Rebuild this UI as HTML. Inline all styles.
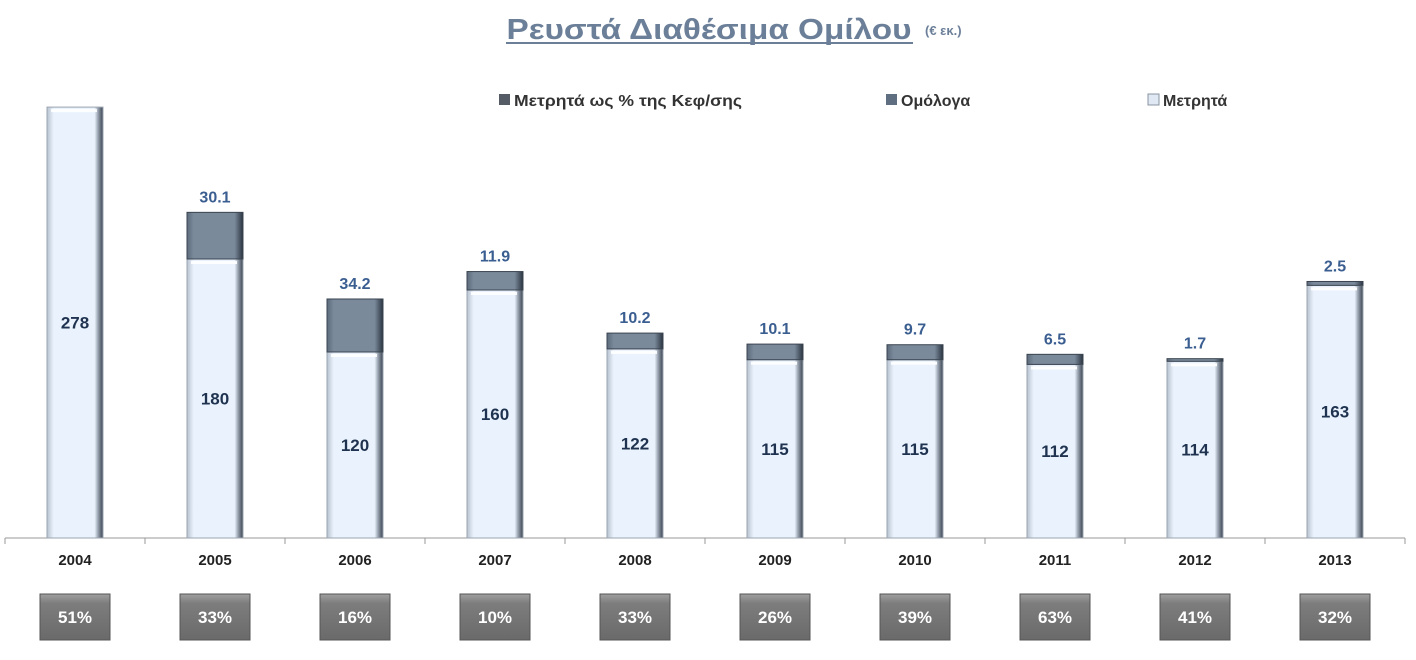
<!DOCTYPE html>
<html><head><meta charset="utf-8"><style>
body{margin:0;background:#fff;font-family:"Liberation Sans",sans-serif;}
svg text{font-family:"Liberation Sans",sans-serif;}
</style></head><body>
<svg width="1416" height="655" viewBox="0 0 1416 655">
<defs>
<linearGradient id="cash" x1="0" x2="1" y1="0" y2="0">
<stop offset="0" stop-color="#b8c2d0"/><stop offset="0.12" stop-color="#eaf3fd"/><stop offset="0.85" stop-color="#eaf3fd"/><stop offset="0.92" stop-color="#8e98a6"/><stop offset="1" stop-color="#3a4450"/></linearGradient>
<linearGradient id="bond" x1="0" x2="1" y1="0" y2="0">
<stop offset="0" stop-color="#5c6b7c"/><stop offset="0.12" stop-color="#7b8a9b"/><stop offset="0.85" stop-color="#7b8a9b"/><stop offset="1" stop-color="#2a3440"/></linearGradient>
<linearGradient id="pct" x1="0" x2="0" y1="0" y2="1">
<stop offset="0" stop-color="#a0a0a0"/><stop offset="0.2" stop-color="#7d7d7d"/><stop offset="1" stop-color="#6a6a6a"/></linearGradient>
</defs>
<text x="709" y="39" text-anchor="middle" font-size="29" font-weight="bold" fill="#6b7f99" textLength="405" lengthAdjust="spacingAndGlyphs">Ρευστά Διαθέσιμα Ομίλου</text>
<line x1="506" y1="43" x2="913" y2="43" stroke="#6b7f99" stroke-width="2"/>
<text x="925" y="35" font-size="13" font-weight="bold" fill="#6b7f99">(€ εκ.)</text>
<g>
<rect x="499" y="94" width="11" height="11" fill="#555c66"/>
<text x="514" y="106" font-size="16" font-weight="bold" fill="#333" textLength="228" lengthAdjust="spacingAndGlyphs">Μετρητά ως % της Κεφ/σης</text>
<rect x="886" y="94" width="11" height="11" fill="#5f6e80"/>
<text x="901" y="106" font-size="16" font-weight="bold" fill="#333">Ομόλογα</text>
<rect x="1148" y="94" width="11" height="11" fill="#dfe8f3" stroke="#8a94a0"/>
<text x="1163" y="106" font-size="16" font-weight="bold" fill="#333">Μετρητά</text>
</g>
<g id="plot"></g>
</svg>
<script>
const years=["2004","2005","2006","2007","2008","2009","2010","2011","2012","2013"];
const cash=[278,180,120,160,122,115,115,112,114,163];
const bonds=[0,30.1,34.2,11.9,10.2,10.1,9.7,6.5,1.7,2.5];
const pcts=["51%","33%","16%","10%","33%","26%","39%","63%","41%","32%"];
const X0=5,BAND=140,BASE=538,SCALE=1.55,BW=56;
const x=i=>X0+BAND*i+BAND/2;
const y=v=>BASE-v*SCALE;
const NS="http://www.w3.org/2000/svg";
const g=document.getElementById('plot');
function mk(t,a){const e=document.createElementNS(NS,t);for(const k in a)e.setAttribute(k,a[k]);g.appendChild(e);return e;}
const ax=mk('line',{x1:X0,y1:BASE,x2:X0+BAND*years.length,y2:BASE,stroke:'#999','stroke-width':1});


for(let i=0;i<=years.length;i++){const t=mk('line',{x1:X0+BAND*i,y1:BASE,x2:X0+BAND*i,y2:BASE+6,stroke:'#999'});

}
years.forEach((yr,i)=>{
const cx=x(i),l=cx-BW/2;
const ct=y(cash[i]);
const r=mk('rect',{x:l,y:ct,width:BW,height:BASE-ct,fill:'url(#cash)',stroke:'#9aa4b0','stroke-width':1});


mk('rect',{x:l+4,y:ct+2,width:BW-10,height:3,fill:'#fff',opacity:0.9});
const bt=y(cash[i]+bonds[i]);
if(bonds[i]>0){
const b=mk('rect',{x:l,y:bt,width:BW,height:ct-bt,fill:'url(#bond)',stroke:'#3a4450','stroke-width':1});


const bl=mk('text',{x:cx,y:bt-10,'text-anchor':'middle','font-size':16,'font-weight':'bold',fill:'#3b5e91'});
bl.textContent=bonds[i];

}
const cl=mk('text',{x:cx,y:(ct+BASE)/2+6,'text-anchor':'middle','font-size':17,'font-weight':'bold',fill:'#1f3350'});
cl.textContent=cash[i];


const yl=mk('text',{x:cx,y:565,'text-anchor':'middle','font-size':15,'font-weight':'bold',fill:'#222'});
yl.textContent=yr;


const pb=mk('rect',{x:cx-35,y:594,width:70,height:46,fill:'url(#pct)',stroke:'#555','stroke-width':1});


const pt=mk('text',{x:cx,y:623,'text-anchor':'middle','font-size':17,'font-weight':'bold',fill:'#fff'});
pt.textContent=pcts[i];


});
</script>
</body></html>
